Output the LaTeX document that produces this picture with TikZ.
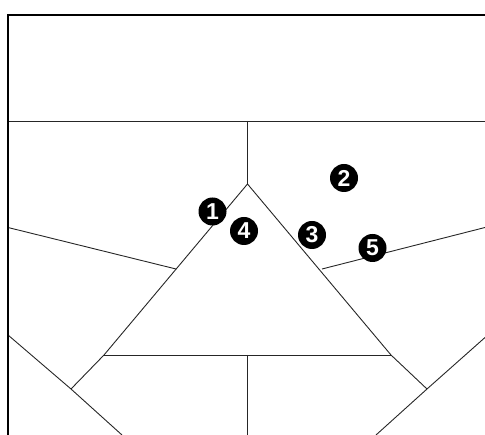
\documentclass[tikz,border=0pt]{standalone}
\usepackage{fontspec}
\setmainfont{Liberation Sans}
\begin{document}
\begin{tikzpicture}[x=1pt,y=-1pt,
  thin line/.style={line width=0.9pt,black!85},
  frame line/.style={line width=1.8pt,black},
  badge/.style={circle,fill=black,text=white,inner sep=0pt,minimum size=28pt,font=\bfseries\fontsize{23}{23}\selectfont}]
\useasboundingbox (0,0) rectangle (485,435);
% coordinates
\coordinate (tl) at (8,14.7);
\coordinate (tr) at (485,14.7);
\coordinate (bl) at (8,435);
\coordinate (hl) at (8,121);
\coordinate (hr) at (485,121);
\coordinate (hm) at (247.5,121);
\coordinate (apex) at (247.5,184);
\coordinate (baseL) at (104,355);
\coordinate (baseR) at (391,355);
\coordinate (baseM) at (247.5,355);
\coordinate (botM) at (247.5,435);
\coordinate (lA) at (8,227.5);
\coordinate (lB) at (176,269);
\coordinate (rA) at (322,269);
\coordinate (rB) at (485,227.5);
\coordinate (lC) at (8,335);
\coordinate (lD) at (71,389);
\coordinate (lE) at (122,435);
\coordinate (rC) at (485,337.5);
\coordinate (rD) at (427,389);
\coordinate (rE) at (376,435);
% lines
\draw[thin line] (hl) -- (hr);
\draw[thin line] (hm) -- (apex);
\draw[thin line] (lD) -- (baseL) -- (apex) -- (baseR) -- (rD);
\draw[thin line] (baseL) -- (baseR);
\draw[thin line] (baseM) -- (botM);
\draw[thin line] (lA) -- (lB);
\draw[thin line] (rA) -- (rB);
\draw[thin line] (lC) -- (lD) -- (lE);
\draw[thin line] (rC) -- (rD) -- (rE);
\draw[frame line] (tr) -- (tl) -- (bl);
% badges
\node[badge] (n1) at (212.5,211.5) {1};
\node[badge] (n2) at (344,178) {2};
\node[badge] (n3) at (312,235) {3};
\node[badge] (n4) at (244,231) {4};
\node[badge] (n5) at (372.5,248) {5};
\end{tikzpicture}
\end{document}
